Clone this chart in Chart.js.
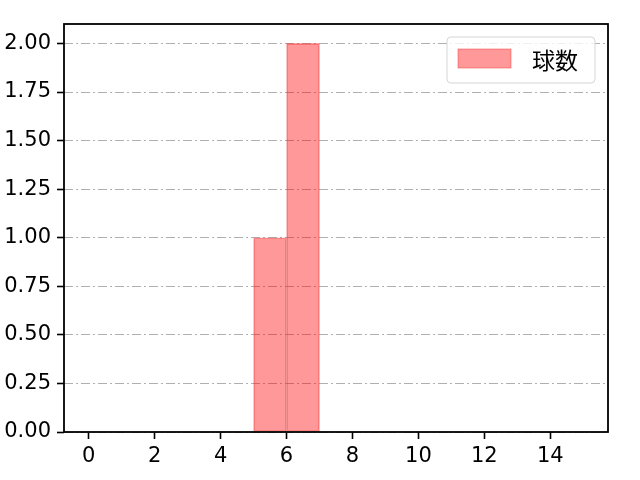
<!DOCTYPE html>
<html>
<head>
<meta charset="utf-8">
<script src="https://cdn.jsdelivr.net/npm/chart.js@4"></script>
<style>
  html, body { margin: 0; padding: 0; background: #fff; }
  #wrap { width: 640px; height: 480px; }
</style>
</head>
<body>
<div id="wrap"><canvas id="chart" width="640" height="480"></canvas></div>
<script>
// histogram bins (left edges) and counts
const binStarts = [0, 1, 2, 3, 4, 5, 6, 7, 8, 9, 10, 11, 12, 13, 14];
const counts = [0, 0, 0, 0, 0, 1, 2, 0, 0, 0, 0, 0, 0, 0, 0];
const seriesLabel = '球数';
const xTicks = [0, 2, 4, 6, 8, 10, 12, 14];
const yTicks = [0, 0.25, 0.5, 0.75, 1, 1.25, 1.5, 1.75, 2];

const tickFont = { family: 'DejaVu Sans', size: 21 };

// frame around the plot area + legend box like matplotlib
const framePlugin = {
  id: 'frame',
  afterDraw(chart) {
    const { ctx, chartArea: a } = chart;
    ctx.save();
    ctx.strokeStyle = '#000';
    ctx.lineWidth = 1.8;
    ctx.strokeRect(a.left, a.top, a.right - a.left, a.bottom - a.top);

    // legend
    const ds = chart.data.datasets[0];
    const x = a.right - 161, y = a.top + 13, w = 148, h = 46;
    ctx.fillStyle = 'rgba(255,255,255,0.8)';
    ctx.strokeStyle = '#d5d5d5';
    ctx.lineWidth = 1;
    ctx.beginPath();
    ctx.roundRect(x, y, w, h, 4);
    ctx.fill();
    ctx.stroke();
    ctx.fillStyle = ds.backgroundColor;
    ctx.strokeStyle = ds.borderColor;
    ctx.fillRect(x + 11, y + 12, 53, 19);
    ctx.strokeRect(x + 11, y + 12, 53, 19);
    ctx.fillStyle = '#000';
    ctx.font = '23px "Noto Sans CJK JP"';
    ctx.textBaseline = 'middle';
    ctx.fillText(ds.label, x + 85, y + 23);
    ctx.restore();
  }
};

new Chart(document.getElementById('chart'), {
  type: 'bar',
  data: {
    datasets: [{
      label: seriesLabel,
      data: binStarts.map((b, i) => ({ x: b + 0.5, y: counts[i] })),
      backgroundColor: 'rgba(255,0,0,0.4)',
      borderColor: 'rgba(235,50,50,0.45)',
      borderWidth: 1,
      borderSkipped: false,
      barPercentage: 1,
      categoryPercentage: 1,
      grouped: false
    }]
  },
  options: {
    responsive: false,
    animation: false,
    layout: { padding: { left: 0, right: 32, top: 24, bottom: 0 } },
    plugins: { legend: { display: false }, tooltip: { enabled: false } },
    scales: {
      x: {
        type: 'linear',
        offset: false,
        min: -0.75,
        max: 15.75,
        afterBuildTicks(s) { s.ticks = xTicks.map(v => ({ value: v })); },
        afterFit(s) { s.height = 48; },
        grid: { offset: false, drawOnChartArea: false, drawTicks: true, tickLength: 7, tickColor: '#000', tickWidth: 1.6 },
        border: { display: false },
        ticks: { color: '#000', font: tickFont, padding: 5, maxRotation: 0 }
      },
      y: {
        min: 0,
        max: 2.1,
        afterBuildTicks(s) { s.ticks = yTicks.map(v => ({ value: v })); },
        afterFit(s) { s.width = 64; },
        grid: {
          color: '#b0b0b0', lineWidth: 1,
          drawTicks: true, tickLength: 7, tickColor: '#000', tickWidth: 1.6, tickBorderDash: []
        },
        border: { display: false, dash: [9, 3, 2, 3] },
        ticks: { color: '#000', font: tickFont, padding: 6, callback: v => v.toFixed(2) }
      }
    }
  },
  plugins: [framePlugin]
});
</script>
</body>
</html>
